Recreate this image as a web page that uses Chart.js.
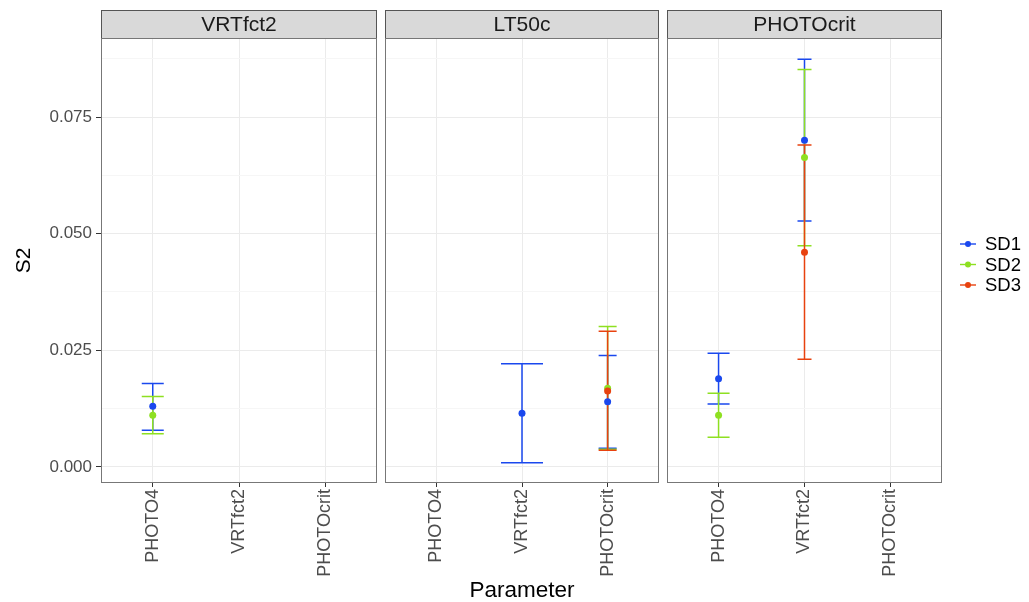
<!DOCTYPE html>
<html>
<head>
<meta charset="utf-8">
<script src="https://cdn.jsdelivr.net/npm/chart.js@4.4.1/dist/chart.umd.min.js"></script>
<style>
  body { margin: 0; background: #fff; width: 1029px; height: 602px; overflow: hidden; position: relative; }
  canvas { position: absolute; top: 0; }
</style>
</head>
<body>
<canvas id="p0" width="381" height="602" style="left:0px"></canvas>
<canvas id="p1" width="282" height="602" style="left:381px"></canvas>
<canvas id="p2" width="366" height="602" style="left:663px"></canvas>
<script>
// Facets, categories, series
const panels = ['VRTfct2', 'LT50c', 'PHOTOcrit'];
const categories = ['PHOTO4', 'VRTfct2', 'PHOTOcrit'];
const seriesNames = ['SD1', 'SD2', 'SD3'];
const seriesColors = ['#1a48ee', '#8ee021', '#e8420f'];

// y ticks
const yMajor = [0, 0.025, 0.05, 0.075];
const yMinor = [0.0125, 0.0375, 0.0625, 0.0875];

// one row per panel, one column per category (null = no estimate)
const sd1Mean = [[0.0130, null, null], [null, 0.0115, 0.0140], [0.0189, 0.0700, null]];
const sd1Low  = [[0.0079, null, null], [null, 0.0009, 0.0040], [0.0135, 0.0527, null]];
const sd1High = [[0.0179, null, null], [null, 0.0221, 0.0239], [0.0244, 0.0874, null]];

const sd2Mean = [[0.0111, null, null], [null, null, 0.0169], [0.0111, 0.0663, null]];
const sd2Low  = [[0.0071, null, null], [null, null, 0.0038], [0.0064, 0.0474, null]];
const sd2High = [[0.0151, null, null], [null, null, 0.0301], [0.0158, 0.0852, null]];

const sd3Mean = [[null, null, null], [null, null, 0.0163], [null, 0.0460, null]];
const sd3Low  = [[null, null, null], [null, null, 0.0036], [null, 0.0231, null]];
const sd3High = [[null, null, null], [null, null, 0.0291], [null, 0.0690, null]];

const means = [sd1Mean, sd2Mean, sd3Mean];
const lows = [sd1Low, sd2Low, sd3Low];
const highs = [sd1High, sd2High, sd3High];

// errorbar cap half-width (px), per panel / category
const capHalf = [[11, 0, 0], [0, 21, 9], [11, 7, 0]];

const FONT = "'Liberation Sans', Arial, sans-serif";

const facetPlugin = {
    id: 'facet',
    beforeDraw(chart, args, opts) {
        const a = chart.chartArea;
        const ctx = chart.ctx;
        // strip
        ctx.save();
        ctx.fillStyle = '#d9d9d9';
        ctx.fillRect(a.left, 10, a.right - a.left, a.top - 10);
        ctx.strokeStyle = '#555';
        ctx.lineWidth = 1;
        ctx.strokeRect(a.left + 0.5, 10.5, a.right - a.left - 1, a.top - 10);
        ctx.fillStyle = '#1a1a1a';
        ctx.font = '21px ' + FONT;
        ctx.textAlign = 'center';
        ctx.textBaseline = 'middle';
        ctx.fillText(panels[opts.panel], (a.left + a.right) / 2, (10 + a.top) / 2 + 1);
        ctx.restore();
    },
    beforeDatasetsDraw(chart, args, opts) {
        const p = opts.panel;
        const xs = chart.scales.x, ys = chart.scales.y;
        const ctx = chart.ctx;
        ctx.save();
        ctx.lineWidth = 1.5;
        seriesNames.forEach((s, k) => {
            ctx.strokeStyle = seriesColors[k];
            categories.forEach((c, i) => {
                if (means[k][p][i] == null) return;
                const x = xs.getPixelForValue(i + 1);
                const yl = ys.getPixelForValue(lows[k][p][i]);
                const yh = ys.getPixelForValue(highs[k][p][i]);
                const w = capHalf[p][i];
                ctx.beginPath();
                ctx.moveTo(x, yl); ctx.lineTo(x, yh);
                ctx.moveTo(x - w, yl); ctx.lineTo(x + w, yl);
                ctx.moveTo(x - w, yh); ctx.lineTo(x + w, yh);
                ctx.stroke();
            });
        });
        ctx.restore();
    },
    afterDraw(chart, args, opts) {
        const a = chart.chartArea;
        const ctx = chart.ctx;
        ctx.save();
        ctx.strokeStyle = '#777';
        ctx.lineWidth = 1;
        ctx.strokeRect(a.left + 0.5, a.top + 0.5, a.right - a.left - 1, a.bottom - a.top - 1);
        if (opts.legend) {
            ctx.font = '18.5px ' + FONT;
            ctx.textBaseline = 'middle';
            seriesNames.forEach((s, k) => {
                const y = 244 + k * 20.5;
                const x = a.right + 18;
                ctx.strokeStyle = seriesColors[k];
                ctx.fillStyle = seriesColors[k];
                ctx.lineWidth = 1.4;
                ctx.beginPath(); ctx.moveTo(x, y); ctx.lineTo(x + 16, y); ctx.stroke();
                ctx.beginPath(); ctx.arc(x + 8, y, 3, 0, Math.PI * 2); ctx.fill();
                ctx.fillStyle = '#000';
                ctx.fillText(s, x + 25, y + 1);
            });
        }
        ctx.restore();
    }
};

const makePanel = (p) => {
    const first = p === 0;
    const last = p === panels.length - 1;
    const datasets = seriesNames.map((s, k) => ({
        label: s,
        order: seriesNames.length - k,
        data: categories.map((c, i) => means[k][p][i] == null ? null : { x: i + 1, y: means[k][p][i] })
            .filter(d => d !== null),
        backgroundColor: seriesColors[k],
        pointRadius: 3.5,
        pointBorderWidth: 0,
        showLine: false
    }));

    new Chart('p' + p, {
        type: 'scatter',
        data: { datasets },
        plugins: [facetPlugin],
        options: {
            responsive: false,
            animation: false,
            devicePixelRatio: 1,
            layout: { padding: { left: first ? 0 : 3, right: last ? 87 : 3, top: 38, bottom: 0 } },
            plugins: {
                legend: { display: false },
                tooltip: { enabled: false },
                facet: { panel: p, legend: last }
            },
            scales: {
                x: {
                    type: 'linear',
                    min: 0.4,
                    max: 3.6,
                    afterBuildTicks: s => { s.ticks = categories.map((c, i) => ({ value: i + 1 })); },
                    afterFit: s => { s.height = 119; },
                    ticks: {
                        autoSkip: false,
                        minRotation: 90,
                        maxRotation: 90,
                        padding: 2,
                        color: '#4d4d4d',
                        font: { family: FONT, size: 18 },
                        callback: v => categories[v - 1]
                    },
                    grid: { color: '#ebebeb', tickColor: '#333', tickLength: 4 },
                    border: { display: false },
                    title: {
                        display: p === 1,
                        text: 'Parameter',
                        color: '#000',
                        font: { family: FONT, size: 22.5 },
                        padding: { top: 0, bottom: -2 }
                    }
                },
                y: {
                    min: -0.00343,
                    max: 0.09193,
                    afterBuildTicks: s => {
                        s.ticks = [...yMajor, ...yMinor].sort((a, b) => a - b).map(v => ({ value: v }));
                    },
                    afterFit: s => { s.width = first ? 101 : 0; },
                    ticks: {
                        display: first,
                        padding: 4,
                        color: '#4d4d4d',
                        font: { family: FONT, size: 17 },
                        callback: v => yMajor.includes(v) ? v.toFixed(3) : ''
                    },
                    grid: {
                        drawTicks: first,
                        tickLength: 5,
                        color: c => yMajor.includes(c.tick.value) ? '#ebebeb' : '#f6f6f6',
                        tickColor: c => yMajor.includes(c.tick.value) ? '#333' : 'rgba(0,0,0,0)'
                    },
                    border: { display: false },
                    title: {
                        display: first,
                        text: 'S2',
                        color: '#000',
                        font: { family: FONT, size: 21 },
                        padding: { top: 12, bottom: 0 }
                    }
                }
            }
        }
    });
};

panels.forEach((name, p) => makePanel(p));
</script>
</body>
</html>
